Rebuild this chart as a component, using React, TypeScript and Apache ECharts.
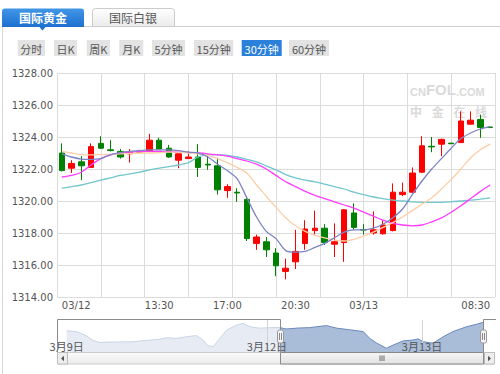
import React, { useEffect, useRef } from "react";
import * as echarts from "echarts";

// ---- main chart data (30-minute candles) ----
const categories = [
  "03/12 08:30", "03/12 09:00", "03/12 09:30", "03/12 10:00", "03/12 10:30", "03/12 11:00",
  "03/12 11:30", "03/12 12:00", "03/12 12:30", "03/12 13:00", "03/12 13:30", "03/12 14:00",
  "03/12 14:30", "03/12 15:00", "03/12 15:30", "03/12 16:00", "03/12 16:30", "03/12 17:00",
  "03/12 17:30", "03/12 18:00", "03/12 18:30", "03/12 19:00", "03/12 19:30", "03/12 20:00",
  "03/12 20:30", "03/12 21:00", "03/12 21:30", "03/12 22:00", "03/12 22:30", "03/12 23:00",
  "03/12 23:30", "03/13 00:00", "03/13 00:30", "03/13 01:00", "03/13 01:30", "03/13 02:00",
  "03/13 02:30", "03/13 03:00", "03/13 03:30", "03/13 04:00", "03/13 04:30", "03/13 07:00",
  "03/13 07:30", "03/13 08:00", "03/13 08:30",
];
const xTickIndex = [0, 10, 17, 24, 31, 44];
const xTickLabels = ["03/12", "13:30", "17:00", "20:30", "03/13", "08:30"];

const openP = [
  1323.0, 1322.05, 1322.45, 1322.1, 1323.6, 1323.2, 1323.1, 1322.95, 1323.05, 1323.1,
  1323.8, 1323.3, 1322.55, 1322.65, 1322.75, 1322.3, 1322.2, 1320.65, 1320.55, 1320.1,
  1317.35, 1317.45, 1316.75, 1315.6, 1316.2, 1317.35, 1318.15, 1318.3, 1317.3, 1317.4,
  1319.25, 1318.22, 1318.0, 1317.95, 1318.15, 1320.4, 1320.55, 1321.8, 1323.42, 1323.55,
  1323.62, 1323.65, 1324.8, 1325.1, 1324.62,
];
const closeP = [
  1321.9, 1322.35, 1322.2, 1323.4, 1323.3, 1323.15, 1322.75, 1323.05, 1323.12, 1323.8,
  1323.25, 1322.75, 1322.95, 1322.75, 1322.1, 1322.25, 1320.7, 1320.9, 1320.5, 1317.65,
  1317.75, 1316.95, 1315.95, 1315.8, 1316.85, 1318.25, 1318.3, 1317.4, 1317.45, 1319.45,
  1318.35, 1318.18, 1318.2, 1318.5, 1320.55, 1320.55, 1321.75, 1323.45, 1323.38, 1323.85,
  1323.58, 1325.0, 1325.05, 1324.6, 1324.6,
];
const lowP = [
  1321.85, 1321.75, 1321.3, 1322.1, 1323.25, 1323.1, 1322.65, 1322.4, 1323.0, 1323.05,
  1323.2, 1322.7, 1322.05, 1322.65, 1321.5, 1321.95, 1320.4, 1320.2, 1319.95, 1317.5,
  1316.95, 1316.5, 1315.3, 1315.1, 1315.75, 1316.95, 1317.9, 1317.25, 1316.5, 1316.2,
  1318.2, 1317.9, 1317.9, 1317.9, 1318.1, 1320.3, 1320.5, 1321.75, 1323.05, 1322.8,
  1323.58, 1323.65, 1324.8, 1323.95, 1324.55,
];
const highP = [
  1323.6, 1322.55, 1322.8, 1323.6, 1324.05, 1323.8, 1323.25, 1323.25, 1323.2, 1324.2,
  1323.95, 1323.5, 1322.95, 1323.1, 1323.55, 1322.95, 1322.7, 1321.05, 1320.8, 1320.3,
  1317.9, 1317.75, 1317.05, 1316.4, 1318.2, 1318.8, 1319.4, 1318.55, 1318.6, 1319.5,
  1319.85, 1318.55, 1319.35, 1318.8, 1321.1, 1321.15, 1322.1, 1324.05, 1324.0, 1323.9,
  1323.62, 1325.6, 1325.6, 1325.4, 1324.65,
];

// moving averages
const maBlue = [
  1322.95, 1322.75, 1322.62, 1322.6, 1322.65, 1322.9, 1323.02, 1323.1, 1323.15, 1323.2,
  1323.2, 1323.2, 1323.15, 1323.05, 1323.0, 1322.75, 1322.3, 1321.9, 1321.4, 1320.2,
  1319.0, 1318.1, 1317.65, 1316.9, 1316.8, 1316.85, 1317.1, 1317.35, 1317.7, 1318.05,
  1318.2, 1318.2, 1318.3, 1318.55, 1318.95, 1319.5, 1320.4, 1321.25, 1322.0, 1322.65,
  1323.3, 1323.9, 1324.25, 1324.5, 1324.65,
];
const maOrange = [
  1323.1, 1323.0, 1322.9, 1322.88, 1322.9, 1322.92, 1322.95, 1322.97, 1323.0, 1323.0,
  1323.02, 1323.05, 1323.05, 1323.0, 1322.95, 1322.85, 1322.65, 1322.4, 1322.1, 1321.75,
  1321.0, 1320.3, 1319.6, 1318.95, 1318.45, 1318.1, 1317.85, 1317.7, 1317.55, 1317.5,
  1317.6, 1317.8, 1318.05, 1318.35, 1318.65, 1319.0, 1319.4, 1319.8, 1320.2, 1320.75,
  1321.35, 1322.0, 1322.7, 1323.2, 1323.55,
];
const maMagenta = [
  1321.5, 1321.6, 1321.8, 1322.25, 1322.65, 1322.88, 1323.0, 1323.05, 1323.1, 1323.1,
  1323.1, 1323.08, 1323.06, 1323.03, 1323.0, 1322.95, 1322.88, 1322.8, 1322.65, 1322.5,
  1322.3, 1322.0, 1321.6, 1321.2, 1320.9, 1320.6, 1320.35, 1320.15, 1319.95, 1319.75,
  1319.55, 1319.3, 1319.05, 1318.8, 1318.6, 1318.5, 1318.45, 1318.5, 1318.7, 1318.95,
  1319.3, 1319.7, 1320.15, 1320.6, 1321.0,
];
const maTeal = [
  1320.8, 1320.9, 1321.0, 1321.15, 1321.3, 1321.45, 1321.6, 1321.7, 1321.8, 1321.95,
  1322.05, 1322.15, 1322.25, 1322.4, 1322.75, 1322.88, 1322.9, 1322.85, 1322.75, 1322.6,
  1322.45, 1322.2, 1321.95, 1321.65, 1321.45, 1321.3, 1321.2, 1321.05, 1320.9, 1320.75,
  1320.55, 1320.4, 1320.25, 1320.15, 1320.05, 1320.0, 1319.95, 1319.92, 1319.92, 1319.92,
  1319.95, 1320.0, 1320.05, 1320.12, 1320.2,
];

const yMin = 1314;
const yMax = 1328;
const yStep = 2;

// ---- navigator data (hours relative to 3/12 00:00, trading time) ----
const navHours = [
  -31, -29.5, -28, -27, -26, -24.3, -22.2, -20.7, -19.7, -18.1,
  -16.6, -15.5, -14, -12.4, -10.9, -9.9, -9.1, -8.3, -7.3, -6.2,
  -4.7, -3.7, -2.6, -1.1, 0.5, 2, 3, 4.6, 6.6, 9.2,
  10.8, 12.9, 14.9, 15.9, 17, 18.5, 19.6, 21.1, 22.6, 23.4,
  24.2, 25.7, 27.3, 28.8, 30.9, 32.5, 33.5,
];
const navPrices = [
  1322.0, 1321.7, 1320.3, 1318.7, 1317.9, 1318.0, 1318.1, 1318.1, 1318.4, 1318.7,
  1319.0, 1319.55, 1319.3, 1319.9, 1320.3, 1318.7, 1316.7, 1316.4, 1319.3, 1322.3,
  1324.0, 1324.6, 1323.4, 1322.9, 1323.1, 1323.1, 1322.6, 1322.9, 1323.1, 1323.8,
  1322.9, 1322.3, 1321.7, 1319.3, 1317.6, 1315.8, 1317.0, 1318.4, 1318.7, 1319.1,
  1318.1, 1317.6, 1319.9, 1321.7, 1323.4, 1324.3, 1325.0,
];
const navDayHours = [-31, 0, 24];
const navDayLabels = ["3月9日", "3月12日", "3月13日"];
const navSelection = [2, 33.5];

const tabLabels = ["国际黄金", "国际白银"];
const periodButtons = ["分时", "日K", "周K", "月K", "5分钟", "15分钟", "30分钟", "60分钟"];
const activePeriod = "30分钟";

const CJK = '"Noto Sans CJK SC", sans-serif';
const LAT = '"DejaVu Sans", sans-serif';

export default function App() {
  const ref = useRef<HTMLDivElement>(null);

  useEffect(() => {
    const el = ref.current;
    if (!el) return;
    const chart = echarts.init(el, null, { renderer: "svg" });

    const g: any[] = [];
    // container borders
    g.push({ type: "line", z: 20, silent: true, shape: { x1: 2.5, y1: 26, x2: 2.5, y2: 374 }, style: { stroke: "#d8d8d8", lineWidth: 1 } });
    g.push({ type: "line", z: 20, silent: true, shape: { x1: 84, y1: 26.5, x2: 500, y2: 26.5 }, style: { stroke: "#cfcfcf", lineWidth: 1 } });
    // tabs
    const tabX = [2, 92];
    tabLabels.forEach((t, i) => {
      const active = i === 0;
      g.push({
        type: "rect", z: 20, silent: true,
        shape: { x: tabX[i] + (active ? 0 : 0.5), y: 8.5, width: 82, height: active ? 18.5 : 18, r: [3, 3, 0, 0] },
        style: active
          ? { fill: { type: "linear", x: 0, y: 0, x2: 0, y2: 1, colorStops: [{ offset: 0, color: "#4196e6" }, { offset: 1, color: "#1e70d0" }] } }
          : { fill: { type: "linear", x: 0, y: 0, x2: 0, y2: 1, colorStops: [{ offset: 0, color: "#ffffff" }, { offset: 1, color: "#ebebeb" }] }, stroke: "#cccccc", lineWidth: 1 },
      });
      g.push({
        type: "text", z: 21, silent: true, x: tabX[i] + 41, y: 17.5,
        style: { text: t, fill: active ? "#ffffff" : "#555555", fontSize: 12, fontFamily: CJK, fontWeight: active ? "bold" : "normal", textAlign: "center", textVerticalAlign: "middle" },
      });
    });
    g.push({ type: "polygon", z: 20, silent: true, shape: { points: [[39, 26.5], [46, 26.5], [42.5, 30.5]] }, style: { fill: "#1e70d0" } });

    // period buttons
    const btnX = [17.7, 54, 86.7, 119.3, 152, 194, 241.7, 289];
    const btnW = [27.3, 23, 23.3, 24, 33, 39.3, 40, 40];
    periodButtons.forEach((b, i) => {
      const active = b === activePeriod;
      g.push({ type: "rect", z: 20, silent: true, shape: { x: btnX[i], y: 40, width: btnW[i], height: 16 }, style: { fill: active ? "#2b80da" : "#e3e3e3" } });
      g.push({
        type: "text", z: 21, silent: true, x: btnX[i] + btnW[i] / 2, y: 48.5,
        style: { text: b, fill: active ? "#ffffff" : "#555555", fontSize: 11, fontFamily: CJK, textAlign: "center", textVerticalAlign: "middle" },
      });
    });

    // watermark
    const wm = "#dadada";
    g.push({
      type: "text", z: 1, silent: true, x: 410, y: 97,
      style: {
        text: "{a|CN}{b|FOL}{a|.COM}",
        textVerticalAlign: "bottom",
        rich: {
          a: { fontSize: 11, fontWeight: "bold", fontFamily: '"Liberation Sans", sans-serif', fill: wm, color: wm, verticalAlign: "bottom" },
          b: { fontSize: 15, fontWeight: "bold", fontFamily: '"Liberation Sans", sans-serif', fill: wm, color: wm, verticalAlign: "bottom" },
        },
      },
    });
    ["中", "金", "在", "线"].forEach((c, i) => {
      g.push({
        type: "text", z: 1, silent: true, x: 416 + i * 21.7, y: 111.5,
        style: { text: c, fill: wm, fontSize: 12, fontWeight: "bold", fontFamily: CJK, textAlign: "center", textVerticalAlign: "middle" },
      });
    });

    // navigator outline
    const frame = "#8a8a8a";
    const selL = 280.5;
    const selR = 483.5;
    [
      [57.5, 319.5, selL, 319.5],
      [57.5, 319.5, 57.5, 352],
      [selL, 319.5, selL, 352],
      [selR, 319.5, selR, 352],
      [selR, 319.5, 496, 319.5],
    ].forEach(([x1, y1, x2, y2]) => {
      g.push({ type: "line", z: 30, silent: true, shape: { x1, y1, x2, y2 }, style: { stroke: frame, lineWidth: 1 } });
    });
    // handles
    [selL, selR].forEach((hx) => {
      g.push({ type: "rect", z: 31, silent: true, shape: { x: hx - 3, y: 330, width: 6, height: 13, r: 2 }, style: { fill: "#f4f4f4", stroke: "#999999", lineWidth: 1 } });
      g.push({ type: "line", z: 32, silent: true, shape: { x1: hx - 1, y1: 333, x2: hx - 1, y2: 340 }, style: { stroke: "#888", lineWidth: 1 } });
      g.push({ type: "line", z: 32, silent: true, shape: { x1: hx + 1, y1: 333, x2: hx + 1, y2: 340 }, style: { stroke: "#888", lineWidth: 1 } });
    });
    // scrollbar
    g.push({
      type: "rect", z: 30, silent: true, shape: { x: 57.5, y: 352.5, width: 437, height: 11.5 },
      style: { fill: { type: "linear", x: 0, y: 0, x2: 0, y2: 1, colorStops: [{ offset: 0, color: "#fafafa" }, { offset: 1, color: "#ececec" }] }, stroke: "#cccccc", lineWidth: 1 },
    });
    g.push({
      type: "rect", z: 31, silent: true, shape: { x: selL, y: 352.5, width: selR - selL, height: 11.5 },
      style: { fill: { type: "linear", x: 0, y: 0, x2: 0, y2: 1, colorStops: [{ offset: 0, color: "#f6f6f6" }, { offset: 1, color: "#e2e2e2" }] }, stroke: "#8a8a8a", lineWidth: 1 },
    });
    [-2, 0, 2].forEach((d) => {
      const cx = (selL + selR) / 2 + d;
      g.push({ type: "line", z: 32, silent: true, shape: { x1: cx, y1: 355.5, x2: cx, y2: 361 }, style: { stroke: "#666", lineWidth: 1 } });
    });
    g.push({ type: "rect", z: 31, silent: true, shape: { x: 57.5, y: 352.5, width: 10, height: 11.5 }, style: { fill: "#eeeeee", stroke: "#bbbbbb", lineWidth: 1 } });
    g.push({ type: "polygon", z: 32, silent: true, shape: { points: [[64, 355.8], [64, 361.2], [61, 358.5]] }, style: { fill: "#555" } });
    g.push({ type: "rect", z: 31, silent: true, shape: { x: 484.5, y: 352.5, width: 10, height: 11.5 }, style: { fill: "#eeeeee", stroke: "#bbbbbb", lineWidth: 1 } });
    g.push({ type: "polygon", z: 32, silent: true, shape: { points: [[488, 355.8], [488, 361.2], [491, 358.5]] }, style: { fill: "#555" } });

    const navAll = navHours.map((h, i) => [h, navPrices[i]]);
    const navSel = navAll.filter((p) => p[0] >= navSelection[0] && p[0] <= navSelection[1]);

    const lineSeries = (data: number[], color: string) => ({
      type: "line",
      xAxisIndex: 0,
      yAxisIndex: 0,
      data,
      symbol: "none",
      showSymbol: false,
      smooth: 0.3,
      lineStyle: { color, width: 1.3 },
      z: 3,
      silent: true,
    });

    const option: any = {
      animation: false,
      backgroundColor: "#ffffff",
      grid: [
        { left: 57, top: 73, width: 438, height: 224, show: false },
        { left: 57, top: 320, width: 438, height: 32, show: false },
      ],
      xAxis: [
        {
          type: "category",
          gridIndex: 0,
          data: categories,
          boundaryGap: true,
          axisLine: { show: false },
          axisTick: { show: false },
          splitLine: { show: false },
          axisLabel: {
            interval: (i: number) => xTickIndex.includes(i),
            formatter: (_v: string, i: number) => {
              const k = xTickIndex.indexOf(i);
              return k >= 0 ? xTickLabels[k] : "";
            },
            color: "#555555",
            fontSize: 10,
            fontFamily: LAT,
            margin: 3,
            alignMinLabel: "left",
            alignMaxLabel: "right",
          },
        },
        {
          type: "value",
          gridIndex: 0,
          position: "top",
          min: 0,
          max: 10,
          interval: 1,
          axisLine: { show: false },
          axisTick: { show: false },
          axisLabel: { show: false },
          splitLine: { show: true, lineStyle: { color: "#dcdcdc", width: 1 } },
        },
        {
          type: "value",
          gridIndex: 1,
          min: -32.5,
          max: 35.3,
          z: 20,
          axisLine: { show: false },
          axisTick: { show: false, customValues: navDayHours },
          splitLine: { show: false },
          axisLabel: {
            customValues: navDayHours,
            inside: true,
            margin: 1,
            showMinLabel: true,
            showMaxLabel: true,
            hideOverlap: false,
            color: "#555555",
            fontSize: 11,
            fontFamily: CJK,
            formatter: (v: number) => {
              const k = navDayHours.findIndex((d) => Math.abs(d - v) < 1e-6);
              return k >= 0 ? navDayLabels[k] : "";
            },
          },
        },
      ],
      yAxis: [
        {
          type: "value",
          gridIndex: 0,
          min: yMin,
          max: yMax,
          interval: yStep,
          axisLine: { show: false },
          axisTick: { show: false },
          splitLine: { show: true, lineStyle: { color: "#dcdcdc", width: 1 } },
          axisLabel: { formatter: (v: number) => v.toFixed(2), color: "#555555", fontSize: 10, fontFamily: LAT, margin: 4 },
        },
        { type: "value", gridIndex: 1, min: 1314.5, max: 1325.8, show: false },
      ],
      series: [
        {
          type: "candlestick",
          xAxisIndex: 0,
          yAxisIndex: 0,
          data: openP.map((o, i) => [o, closeP[i], lowP[i], highP[i]]),
          barWidth: 6,
          silent: true,
          itemStyle: { color: "#ff0000", color0: "#008000", borderColor: "#ff0000", borderColor0: "#008000", borderWidth: 1 },
        },
        lineSeries(maTeal, "#72c5cc"),
        lineSeries(maMagenta, "#ff3cff"),
        lineSeries(maOrange, "#fccfa8"),
        lineSeries(maBlue, "#7d83c4"),
        { type: "line", xAxisIndex: 1, yAxisIndex: 0, data: [], silent: true },
        {
          type: "line",
          xAxisIndex: 2,
          yAxisIndex: 1,
          data: navAll,
          symbol: "none",
          silent: true,
          z: 2,
          lineStyle: { color: "#c9d5e6", width: 1 },
          areaStyle: { color: "#e7ecf4", origin: "start", opacity: 1 },
        },
        {
          type: "line",
          xAxisIndex: 2,
          yAxisIndex: 1,
          data: navSel,
          symbol: "none",
          silent: true,
          z: 2,
          lineStyle: { color: "#6a89bf", width: 1 },
          areaStyle: { color: "#a9bcd8", origin: "start", opacity: 1 },
          markLine: {
            silent: true,
            symbol: "none",
            label: { show: false },
            lineStyle: { color: "#d3d3d3", width: 1, type: "solid" },
            data: navDayHours.filter((d) => d >= 0).map((d) => ({ xAxis: d })),
          },
        },
      ],
      graphic: g,
    };

    chart.setOption(option);
    return () => chart.dispose();
  }, []);

  return (
    <div
      ref={ref}
      style={{ position: "absolute", left: 0, top: 0, width: 500, height: 374, background: "#ffffff" }}
    />
  );
}
